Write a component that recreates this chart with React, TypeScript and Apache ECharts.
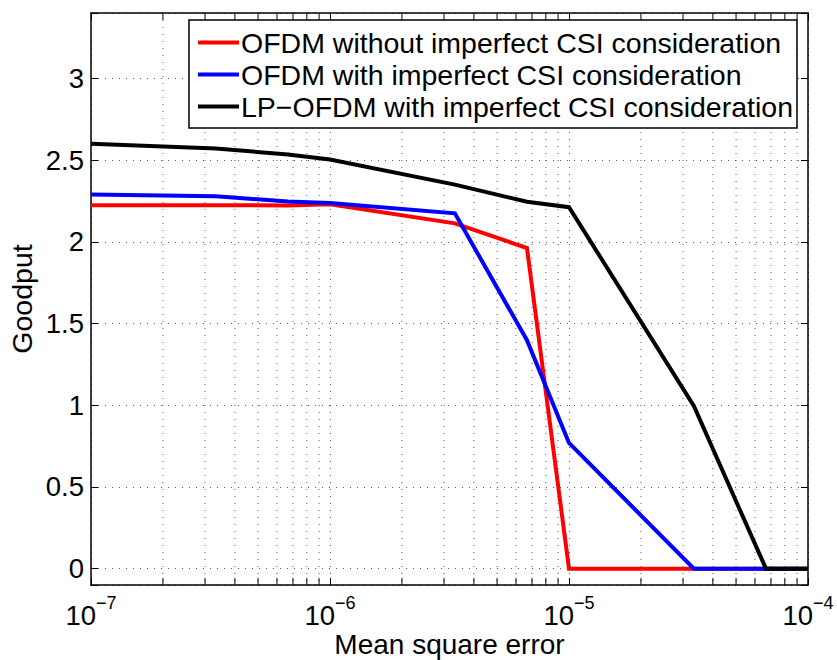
import React, { useEffect, useRef } from "react";
import * as echarts from "echarts";

// Mean square error (x, log scale)
const mseValues = [1e-7, 3.33e-7, 6.67e-7, 1e-6, 3.33e-6, 6.67e-6, 1e-5, 3.33e-5, 6.67e-5, 1e-4];
// Goodput per scheme
const ofdmWithout = [2.224, 2.224, 2.222, 2.23, 2.113, 1.962, 0, 0, 0, 0];
const ofdmWith = [2.29, 2.278, 2.247, 2.238, 2.174, 1.398, 0.769, 0, 0, 0];
const lpOfdmWith = [2.6, 2.571, 2.534, 2.503, 2.35, 2.245, 2.212, 0.995, 0, 0];

const seriesNames = [
  "OFDM without imperfect CSI consideration",
  "OFDM with imperfect CSI consideration",
  "LP\u2212OFDM with imperfect CSI consideration",
];
const seriesColors = ["#ff0000", "#0000ff", "#000000"];
const seriesData = [ofdmWithout, ofdmWith, lpOfdmWith];

// minor log ticks (2..9 in each decade)
const xMinorTicks = [
  2e-7, 3e-7, 4e-7, 5e-7, 6e-7, 7e-7, 8e-7, 9e-7,
  2e-6, 3e-6, 4e-6, 5e-6, 6e-6, 7e-6, 8e-6, 9e-6,
  2e-5, 3e-5, 4e-5, 5e-5, 6e-5, 7e-5, 8e-5, 9e-5,
];
const xMin = 1e-7;
const xMax = 1e-4;
const yMin = -0.1;
const yMax = 3.4;

const FONT = "'Liberation Sans', Arial, Helvetica, sans-serif";
const GRID_COLOR = "#5a5a5a";
const DOT: number[] = [1, 6];

export default function App() {
  const ref = useRef<HTMLDivElement>(null);
  useEffect(() => {
    if (!ref.current) return;
    const chart = echarts.init(ref.current, null, { renderer: "svg" });
    const expLabel = (v: number) => {
      const e = Math.round(Math.log10(v));
      return `{b|10}{s|${e < 0 ? "\u2212" : ""}${Math.abs(e)}}`;
    };
    const yLabel = (v: number) =>
      Math.abs(v * 2 - Math.round(v * 2)) < 1e-9 ? String(Math.round(v * 2) / 2) : "";

    const option: any = {
      animation: false,
      backgroundColor: "#ffffff",
      textStyle: { fontFamily: FONT },
      grid: { left: 91, right: 29, top: 13, bottom: 75, containLabel: false, outerBoundsMode: "none" },
      legend: {
        data: seriesNames,
        orient: "vertical",
        left: 189,
        top: 20,
        backgroundColor: "#ffffff",
        borderColor: "#000000",
        borderWidth: 1.5,
        borderRadius: 0,
        padding: [8, 4, 7, 9],
        icon: "rect",
        itemWidth: 41,
        itemHeight: 4,
        itemGap: 3,
        itemStyle: { borderWidth: 0 },
        textStyle: {
          fontSize: 28.5,
          lineHeight: 28.5,
          color: "#000",
          fontFamily: FONT,
          padding: [0, 0, 0, -3],
        },
        selectedMode: false,
      },
      xAxis: [
        {
          type: "log",
          logBase: 10,
          min: xMin,
          max: xMax,
          name: "Mean square error",
          nameLocation: "middle",
          nameGap: 44,
          nameMoveOverlap: false,
          nameTextStyle: { fontSize: 28, lineHeight: 30, color: "#000", fontFamily: FONT },
          axisLine: { show: true, onZero: false, lineStyle: { color: "#000", width: 1.5 } },
          axisTick: { show: true, inside: true, length: 7, lineStyle: { color: "#000", width: 1 } },
          axisLabel: {
            show: true,
            margin: 9,
            color: "#000",
            formatter: expLabel,
            rich: {
              b: { fontSize: 27.5, lineHeight: 42, fontFamily: FONT, color: "#000" },
              s: { fontSize: 18, lineHeight: 18, verticalAlign: "top", fontFamily: FONT, color: "#000" },
            },
          },
          splitLine: { show: true, lineStyle: { color: GRID_COLOR, width: 1, type: DOT } },
        },
        {
          type: "log",
          logBase: 10,
          min: xMin,
          max: xMax,
          position: "top",
          axisLine: { show: true, onZero: false, lineStyle: { color: "#000", width: 1.5 } },
          axisTick: { show: true, inside: true, length: 7, lineStyle: { color: "#000", width: 1 } },
          axisLabel: { show: false },
          splitLine: { show: false },
        },
      ],
      yAxis: [
        {
          type: "value",
          min: yMin,
          max: yMax,
          splitNumber: 7,
          name: "Goodput",
          nameLocation: "middle",
          nameGap: 55,
          nameMoveOverlap: false,
          nameTextStyle: { fontSize: 28.5, color: "#000", fontFamily: FONT },
          axisLine: { show: true, onZero: false, lineStyle: { color: "#000", width: 1.5 } },
          axisTick: { show: true, inside: true, length: 7, lineStyle: { color: "#000", width: 1 } },
          axisLabel: { show: true, margin: 7, fontSize: 27.5, color: "#000", fontFamily: FONT, formatter: yLabel },
          splitLine: { show: true, lineStyle: { color: GRID_COLOR, width: 1, type: DOT } },
        },
        {
          type: "value",
          min: yMin,
          max: yMax,
          splitNumber: 7,
          position: "right",
          axisLine: { show: true, onZero: false, lineStyle: { color: "#000", width: 1.5 } },
          axisTick: { show: true, inside: true, length: 7, lineStyle: { color: "#000", width: 1 } },
          axisLabel: { show: false },
          splitLine: { show: false },
        },
      ],
      series: [
        {
          type: "custom",
          silent: true,
          xAxisIndex: 0,
          yAxisIndex: 0,
          z: 1,
          clip: false,
          data: xMinorTicks.map((v) => [v, 0]),
          renderItem: (params: any, api: any) => {
            const x = api.coord([api.value(0), 0])[0];
            const cs = params.coordSys;
            const top = cs.y;
            const bottom = cs.y + cs.height;
            return {
              type: "group",
              children: [
                {
                  type: "line",
                  shape: { x1: x, y1: top, x2: x, y2: bottom },
                  style: { stroke: GRID_COLOR, lineWidth: 1, lineDash: DOT },
                },
                {
                  type: "line",
                  shape: { x1: x, y1: bottom, x2: x, y2: bottom - 7 },
                  style: { stroke: "#000", lineWidth: 1 },
                },
                {
                  type: "line",
                  shape: { x1: x, y1: top, x2: x, y2: top + 7 },
                  style: { stroke: "#000", lineWidth: 1 },
                },
              ],
            };
          },
        },
        ...seriesNames.map((name, i) => ({
          name,
          type: "line",
          xAxisIndex: 0,
          yAxisIndex: 0,
          data: mseValues.map((x, j) => [x, seriesData[i][j]]),
          showSymbol: false,
          symbol: "none",
          color: seriesColors[i],
          itemStyle: { color: seriesColors[i] },
          lineStyle: { color: seriesColors[i], width: 4, join: "miter" },
          z: 3 + i,
        })),
      ],
    };
    chart.setOption(option);
    return () => chart.dispose();
  }, []);
  return (
    <div
      ref={ref}
      style={{ position: "fixed", left: 0, top: 0, width: 837, height: 660, background: "#fff" }}
    />
  );
}
